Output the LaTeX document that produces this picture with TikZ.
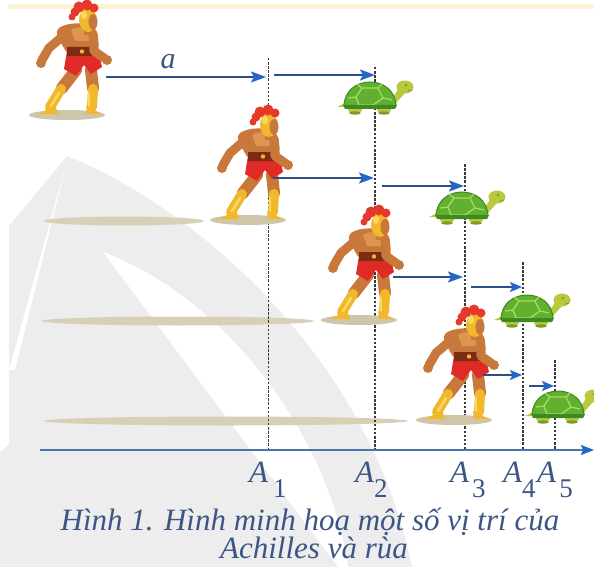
\documentclass[tikz,border=0pt]{standalone}
\usepackage{fontspec}
\setmainfont{Liberation Serif}
\usetikzlibrary{arrows.meta}

\definecolor{wmgray}{HTML}{EDEDED}
\definecolor{topband}{HTML}{FCF3D6}
\definecolor{shadowtan}{HTML}{CFC5A9}
\definecolor{longshadow}{HTML}{D8CFB7}
\definecolor{skin}{HTML}{C8783A}
\definecolor{skinlight}{HTML}{DE9550}
\definecolor{gold}{HTML}{F2B82C}
\definecolor{goldlight}{HTML}{FBD862}
\definecolor{shorts}{HTML}{E02A25}
\definecolor{belt}{HTML}{7C2B14}
\definecolor{crest}{HTML}{E5392B}
\definecolor{shell}{HTML}{62B02F}
\definecolor{shelldark}{HTML}{3E8A22}
\definecolor{shelllight}{HTML}{A6DB62}
\definecolor{tskin}{HTML}{B9C83C}
\definecolor{tskindark}{HTML}{7F9A24}
\definecolor{arrline}{HTML}{2B4F86}
\definecolor{arrhead}{HTML}{2566C8}
\definecolor{axisblue}{HTML}{4A74B0}
\definecolor{labelblue}{HTML}{3C5585}
\definecolor{guide}{HTML}{3A3A3A}

\newcommand{\subdigit}[1]{\raisebox{-15pt}{\fontsize{27}{28}\selectfont #1}}

\tikzset{
  arr/.style={draw=arrline, line width=2pt,
    -{Stealth[length=15pt,width=11pt,inset=3pt,color=arrhead]}},
  smallarr/.style={draw=arrline, line width=2pt,
    -{Stealth[length=12pt,width=10pt,inset=2.5pt,color=arrhead]}},
  guideline/.style={draw=guide, line width=1.6pt, dash pattern=on 2.5pt off 1.6pt},
  thinguide/.style={draw=guide, line width=0.9pt, dash pattern=on 2.5pt off 1.6pt},
  lbl/.style={text=labelblue, font=\fontsize{31}{32}\selectfont, inner sep=0pt},
  caption/.style={text=labelblue, font=\fontsize{31}{32}\selectfont\itshape, inner sep=0pt},
  % a running warrior; origin at the centre of his feet shadow
  achilles/.pic={
    \fill[shadowtan] (0,0) ellipse [x radius=38, y radius=5];
    % back leg
    \draw[skin, line width=12pt, line cap=round] (9,-45) -- (-5,-27);
    \draw[gold, line width=10pt, line cap=round] (-6,-26) -- (-17,-8);
    \draw[goldlight, line width=2.5pt, line cap=round] (-8,-22) -- (-16,-9);
    \fill[gold] (-12,-10) -- (-28,-1) -- (-9,-1) -- cycle;
    % back arm
    \draw[skin, line width=9pt, line cap=round, line join=round]
      (-4,-79) -- (-18,-67) -- (-25,-55);
    \fill[skin] (-26,-52) circle [radius=5];
    % torso
    \fill[skin, rounded corners=5pt] (-12,-84) .. controls (0,-93) and (20,-93) .. (30,-85)
      -- (32,-70) -- (30,-60) -- (1,-60) -- (-6,-72) -- cycle;
    \fill[skinlight] (4,-85) .. controls (10,-89) and (20,-89) .. (25,-83)
      -- (23,-74) -- (8,-74) -- cycle;
    % front leg
    \draw[skin, line width=12pt, line cap=round] (24,-45) -- (26,-27);
    \draw[gold, line width=10pt, line cap=round] (26,-26) -- (25,-8);
    \draw[goldlight, line width=2.5pt, line cap=round] (22,-22) -- (22,-9);
    \fill[gold] (19,-9) -- (20,-1) -- (35,-1) -- cycle;
    % shorts and belt
    \fill[shorts] (0,-64) -- (31,-64) -- (35,-48) -- (24,-41) -- (17,-50)
      -- (9,-39) -- (-3,-46) -- cycle;
    \fill[belt] (0,-68) -- (31,-68) -- (32,-59) -- (0,-59) -- cycle;
    \fill[gold] (15,-63.5) circle [radius=2.2];
    % front arm
    \draw[skin, line width=9pt, line cap=round, line join=round]
      (26,-81) -- (27,-64) -- (37,-57);
    \fill[skin] (40,-55) circle [radius=5];
    % head with helmet
    \fill[skin] (17,-88) rectangle (26,-80);
    \fill[gold] (21,-95) ellipse [x radius=9, y radius=12];
    \fill[skin] (26,-93) ellipse [x radius=4.5, y radius=8];
    \fill[goldlight] (17,-100) ellipse [x radius=3, y radius=4];
    % crest
    \fill[crest] (8,-103) circle [radius=4.5];
    \fill[crest] (12,-108) circle [radius=5.5];
    \fill[crest] (20,-110) circle [radius=5.5];
    \fill[crest] (27,-107) circle [radius=4.5];
    \fill[crest] (5,-98) circle [radius=3.5];
  },
  % a walking tortoise; origin at the bottom centre of its shell
  tortoise/.pic={
    \fill[tskin] (-23,-4) -- (-33,1) -- (-21,1) -- cycle;
    \fill[tskin] (-15,3) ellipse [x radius=7, y radius=5];
    \fill[tskin] (14,3) ellipse [x radius=7, y radius=5];
    \fill[tskindark] (-15,7) ellipse [x radius=6, y radius=1.6];
    \fill[tskindark] (14,7) ellipse [x radius=6, y radius=1.6];
    \fill[tskin] (17,-4) .. controls (24,-8) and (26,-14) .. (29,-18)
      -- (35,-13) .. controls (30,-8) and (26,-2) .. (20,2) -- cycle;
    \fill[tskin] (35,-19) ellipse [x radius=8.5, y radius=6.5];
    \fill[tskindark] (36,-21) circle [radius=1.3];
    \draw[tskindark, line width=0.8pt] (38,-15) -- (42,-16);
    \fill[shell] (-26,0) .. controls (-25,-32) and (25,-32) .. (26,0) -- cycle;
    \draw[shelldark, line width=1pt] (-26,0) .. controls (-25,-32) and (25,-32) .. (26,0);
    \draw[shelllight, line width=1.3pt, line join=round]
      (-8,-18) -- (8,-18) -- (13,-8) -- (3,-1) -- (-11,-1) -- (-14,-9) -- cycle
      (-8,-18) -- (-13,-22) (8,-18) -- (12,-22) (13,-8) -- (22,-6)
      (-14,-9) -- (-22,-8);
    \fill[shelldark] (-27,-1) -- (27,-1) -- (25,3) -- (-25,3) -- cycle;
  }
}

\begin{document}
\begin{tikzpicture}[x=1pt, y=-1pt]
\useasboundingbox (0,0) rectangle (594,567);
\fill[white] (0,0) rectangle (594,567);

% faint sail-shaped emblem in the background
\fill[wmgray] (67,156) .. controls (200,210) and (370,360) .. (412,567)
  -- (0,567) -- (0,452) -- (9,445) -- (9,226) -- cycle;
\fill[white] (67,161) -- (9,370) -- (15,370) -- cycle;
\fill[white] (103,252) -- (338,567) -- (348,567)
  .. controls (330,440) and (230,300) .. (103,252) -- cycle;

% pale strip at the top
\fill[topband] (8,4) rectangle (594,9);

% shadows along the running track
\fill[longshadow] (124,221) ellipse [x radius=80, y radius=4.5];
\fill[longshadow] (178,321) ellipse [x radius=136, y radius=4.5];
\fill[longshadow] (226,421) ellipse [x radius=182, y radius=4.5];

% positions A1 ... A5
\coordinate (g1t) at (268,58);  \coordinate (g1b) at (268,450);
\coordinate (g2t) at (375,67);  \coordinate (g2b) at (375,450);
\coordinate (g3t) at (465,164); \coordinate (g3b) at (465,450);
\coordinate (g4t) at (523,262); \coordinate (g4b) at (523,450);
\coordinate (g5t) at (555,360); \coordinate (g5b) at (555,450);
\draw[thinguide] (g1t) -- (g1b);
\draw[guideline] (g2t) -- (g2b);
\draw[guideline] (g3t) -- (g3b);
\draw[guideline] (g4t) -- (g4b);
\draw[guideline] (g5t) -- (g5b);

% the runners
\pic (runner1) at (67,115) {achilles};
\pic (runner2) at (248,220) {achilles};
\pic (runner3) at (359,320) {achilles};
\pic (runner4) at (454,420) {achilles};

% the tortoise at each stage
\pic (turtle1) at (370,106) {tortoise};
\pic (turtle2) at (462,216) {tortoise};
\pic (turtle3) at (527,319) {tortoise};
\pic (turtle4) at (558,415) {tortoise};

% distances covered
\coordinate (r1s) at (106,77);  \coordinate (r1e) at (266,77);
\coordinate (t1s) at (274,75);  \coordinate (t1e) at (375,75);
\coordinate (r2s) at (273,178); \coordinate (r2e) at (374,178);
\coordinate (t2s) at (382,186); \coordinate (t2e) at (464,186);
\coordinate (r3s) at (393,277); \coordinate (r3e) at (463,277);
\coordinate (t3s) at (471,287); \coordinate (t3e) at (522,287);
\coordinate (r4s) at (483,375); \coordinate (r4e) at (522,375);
\coordinate (t4s) at (529,386); \coordinate (t4e) at (554,386);
\draw[arr] (r1s) -- (r1e);
\draw[arr] (t1s) -- (t1e);
\draw[arr] (r2s) -- (r2e);
\draw[arr] (t2s) -- (t2e);
\draw[arr] (r3s) -- (r3e);
\draw[smallarr] (t3s) -- (t3e);
\draw[smallarr] (r4s) -- (r4e);
\draw[smallarr] (t4s) -- (t4e);
\node[lbl, font=\fontsize{30}{31}\selectfont\itshape] (dist) at (168,62) {a};

% axis
\coordinate (ax0) at (40,450);
\coordinate (ax1) at (594,450);
\draw[draw=axisblue, line width=1.8pt,
  -{Stealth[length=13pt,width=10pt,inset=2pt,color=arrhead]}] (ax0) -- (ax1);

% point labels
\node[lbl, anchor=base west] (A1) at (249,482) {\textit{A}\kern5pt\subdigit{1}};
\node[lbl, anchor=base west] (A2) at (355,482) {\textit{A}\kern0pt\subdigit{2}};
\node[lbl, anchor=base west] (A3) at (450,482) {\textit{A}\kern3pt\subdigit{3}};
\node[lbl, anchor=base west] (A4) at (503,482) {\textit{A}\kern0pt\subdigit{4}};
\node[lbl, anchor=base west] (A5) at (537,482) {\textit{A}\kern3pt\subdigit{5}};

% caption, two lines
\node[caption, anchor=base, text depth=0pt] (cap1) at (310,530)
  {Hình 1. Hình minh hoạ một số vị trí của};
\node[caption, anchor=base, text height=20pt] (cap2) at (314,558)
  {Achilles và rùa};
\end{tikzpicture}
\end{document}
